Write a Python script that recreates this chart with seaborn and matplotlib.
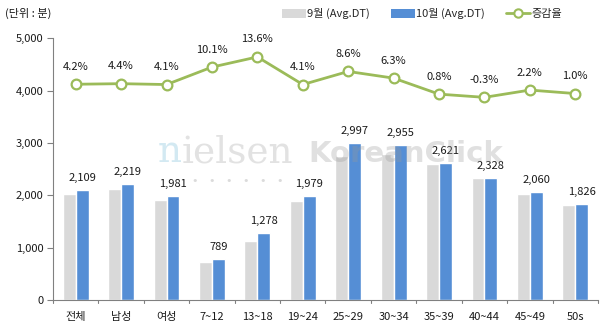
import numpy as np
import pandas as pd
import matplotlib
matplotlib.use("Agg")
import matplotlib.pyplot as plt
import seaborn as sns
from matplotlib.patches import Patch
from matplotlib.lines import Line2D

categories = ["전체", "남성", "여성", "7~12", "13~18", "19~24", "25~29", "30~34", "35~39", "40~44", "45~49", "50s"]
sep_values = [2024, 2125, 1903, 717, 1125, 1901, 2760, 2780, 2600, 2335, 2016, 1808]
oct_values = [2109, 2219, 1981, 789, 1278, 1979, 2997, 2955, 2621, 2328, 2060, 1826]
rates = [4.2, 4.4, 4.1, 10.1, 13.6, 4.1, 8.6, 6.3, 0.8, -0.3, 2.2, 1.0]
series_names = ["9월 (Avg.DT)", "10월 (Avg.DT)"]
rate_name = "증감율"
unit_label = "(단위 : 분)"
y_ticks = [0, 1000, 2000, 3000, 4000, 5000]

sns.set_style("white")
plt.rcParams['font.family'] = ['Noto Sans CJK KR', 'DejaVu Sans']

GRAY = "#D9D9D9"
BLUE = "#558ED5"
GREEN = "#9BBB59"
TXT = "#1a1a1a"

df = pd.DataFrame({
    "cat": categories * 2,
    "series": [series_names[0]] * len(categories) + [series_names[1]] * len(categories),
    "value": sep_values + oct_values,
})

fig = plt.figure(figsize=(6.03, 3.32), dpi=100)
ax = fig.add_axes([0.0879, 0.0964, 0.9917 - 0.0879, 0.8846 - 0.0964])

sns.barplot(data=df, x="cat", y="value", hue="series", palette=[GRAY, BLUE],
            width=0.57, gap=0, saturation=1, ax=ax, legend=False, zorder=2)

ax.set_ylim(0, 5000)
ax.set_xlim(-0.5, len(categories) - 0.5)
ax.set_yticks(y_ticks)
ax.set_yticklabels([f"{v:,}" for v in y_ticks], fontsize=8, color=TXT)
ax.set_xticks(range(len(categories)))
ax.set_xticklabels(categories, fontsize=8, color=TXT)
ax.tick_params(axis="x", length=0, pad=9)
ax.tick_params(axis="y", length=4, width=0.8, color="#808080", pad=3, direction="out", left=True)
for b in np.arange(-0.5, len(categories), 1.0):
    ax.plot([b, b], [0, -0.013], transform=ax.get_xaxis_transform(), color="#808080",
            lw=0.8, clip_on=False)
ax.set_xlabel("")
ax.set_ylabel("")
for s in ["top", "right"]:
    ax.spines[s].set_visible(False)
for s in ["left", "bottom"]:
    ax.spines[s].set_color("#808080")
    ax.spines[s].set_linewidth(0.8)

ax.bar_label(ax.containers[1], labels=[f"{v:,}" for v in oct_values], padding=5,
             fontsize=8, color=TXT)

ax2 = ax.twinx()
sns.lineplot(x=np.arange(len(categories)), y=rates, ax=ax2, color=GREEN, lw=2,
             marker="o", markersize=7, markerfacecolor="white", markeredgecolor=GREEN,
             markeredgewidth=1.6, zorder=5)
ax2.set_ylim(-70, 20)
ax2.set_yticks([])
for s in ax2.spines.values():
    s.set_visible(False)
for i, r in enumerate(rates):
    ax2.annotate(f"{r:.1f}%", (i, r), xytext=(0, 9), textcoords="offset points",
                 ha="center", va="bottom", fontsize=8, color=TXT)

# watermark (drawn semi-transparent over the plot, as in the reference)
wm_y = 1 - 162 / 332
fig.text(158 / 603, wm_y, "n", fontsize=27, color="#a8d4e6", alpha=0.5,
         family="DejaVu Serif", ha="left", va="baseline", zorder=10)
fig.text(158 / 603 + 0.0385, wm_y, "ielsen", fontsize=27, color="#999999", alpha=0.28,
         family="DejaVu Serif", ha="left", va="baseline", zorder=10)
fig.text(308 / 603, wm_y, "KoreanClick", fontsize=21, color="#999999", alpha=0.3,
         fontweight="bold", ha="left", va="baseline", zorder=10, family="DejaVu Sans")
fig.text(192 / 603, 1 - 181 / 332, "•   •   •   •   •   •", fontsize=8, color="#999999",
         alpha=0.35, ha="left", va="center", zorder=10, family="DejaVu Sans")

fig.text(0.008, 0.958, unit_label, fontsize=8, color=TXT, ha="left", va="center")

handles = [Patch(facecolor=GRAY, edgecolor="none"),
           Patch(facecolor=BLUE, edgecolor="none"),
           Line2D([0], [0], color=GREEN, lw=2, marker="o", markersize=6,
                  markerfacecolor="white", markeredgecolor=GREEN, markeredgewidth=1.5)]
fig.legend(handles, series_names + [rate_name], loc="center", bbox_to_anchor=(0.70, 0.958),
           ncol=3, frameon=False, fontsize=8, handlelength=2.16, handleheight=0.9,
           handletextpad=0.1, columnspacing=1.9, borderaxespad=0)

fig.savefig("out.png", dpi=100)
